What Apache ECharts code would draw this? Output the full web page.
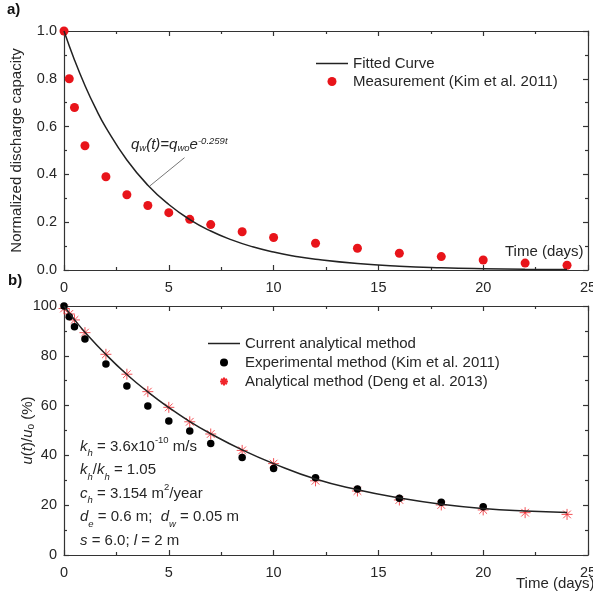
<!DOCTYPE html>
<html><head><meta charset="utf-8">
<script src="https://cdn.jsdelivr.net/npm/echarts@6/dist/echarts.min.js"></script>
<style>html,body{margin:0;padding:0;background:#fff}#c{width:593px;height:593px}</style>
</head><body><div id="c"></div>
<script>
// ---- Panel a) data ----
const measT = [0, 0.25, 0.5, 1, 2, 3, 4, 5, 6, 7, 8.5, 10, 12, 14, 16, 18, 20, 22, 24];
const measQ = [1.0, 0.80, 0.68, 0.52, 0.39, 0.315, 0.27, 0.24, 0.212, 0.19, 0.16, 0.136, 0.112, 0.091, 0.07, 0.056, 0.042, 0.029, 0.02];
const fitT = [0, 0.5, 1, 1.5, 2, 3, 4, 5, 6, 7, 8, 9, 10, 11, 12, 14, 16, 18, 20, 22, 24];
const fitQ = [1.0, 0.879, 0.772, 0.678, 0.596, 0.46, 0.355, 0.274, 0.211, 0.163, 0.126, 0.097, 0.075, 0.058, 0.045, 0.027, 0.016, 0.0095, 0.0056, 0.0034, 0.002];
// ---- Panel b) data ----
const curT = [0, 0.5, 1, 2, 3, 4, 5, 6, 7, 8.5, 10, 12, 14, 16, 18, 20, 22, 24];
const curU = [100, 94.5, 89.5, 80.5, 72.5, 65.5, 59.2, 53.6, 48.7, 42.2, 36.7, 30.5, 26.2, 22.9, 20.4, 18.7, 17.7, 17.1];
const expT = [0, 0.25, 0.5, 1, 2, 3, 4, 5, 6, 7, 8.5, 10, 12, 14, 16, 18, 20];
const expU = [100, 95.7, 91.7, 86.7, 76.7, 67.9, 59.8, 53.8, 49.8, 44.8, 39.2, 34.7, 31.0, 26.5, 22.8, 21.2, 19.4];
const dengT = [0, 0.25, 0.5, 1, 2, 3, 4, 5, 6, 7, 8.5, 10, 12, 14, 16, 18, 20, 22, 24];
const dengU = [99, 96.8, 94.4, 89.3, 80.6, 72.6, 65.6, 59.3, 53.5, 48.6, 42.0, 36.7, 29.8, 25.7, 22.1, 20.1, 18.1, 17.0, 16.3];
// ---- axis ticks ----
const xTicks = [0, 5, 10, 15, 20, 25];
const yTicksA = [0, 0.2, 0.4, 0.6, 0.8, 1.0];
const yTicksB = [0, 20, 40, 60, 80, 100];

const pair = (xs, ys) => xs.map((x, i) => [x, ys[i]]);
const FONT = 'Liberation Sans, Arial, sans-serif';
const TXT = '#262626';
const AX = '#333';
const RED = '#e8141a';
const STAR = 'path://M0,-10L0,10M-10,0L10,0M-7,-7L7,7M-7,7L7,-7';
const LINEICON = 'path://M0,0L32,0L32,1.5L0,1.5Z';

function xAx(grid, ticks, showLabel, pos) {
  return {
    type: 'value', gridIndex: grid, position: pos,
    min: ticks[0], max: ticks[ticks.length - 1], interval: ticks[1] - ticks[0],
    axisLine: { show: true, onZero: false, lineStyle: { color: AX, width: 1.2 } },
    axisTick: { show: true, inside: true, length: 5, lineStyle: { color: AX, width: 1.2 } },
    minorTick: { show: true, splitNumber: 2, length: 3, lineStyle: { color: AX, width: 1.2 } },
    axisLabel: { show: showLabel, margin: 10, color: TXT, fontSize: 14.5, fontFamily: FONT },
    splitLine: { show: false }
  };
}
function yAx(grid, ticks, showLabel, pos, fmt) {
  const a = xAx(grid, ticks, showLabel, pos);
  a.axisLabel.margin = 7;
  if (fmt) a.axisLabel.formatter = fmt;
  return a;
}

const chart = echarts.init(document.getElementById('c'), null, { renderer: 'canvas' });

const xAxes = [xAx(0, xTicks, true, 'bottom'), xAx(0, xTicks, false, 'top'),
               xAx(1, xTicks, true, 'bottom'), xAx(1, xTicks, false, 'top')];
const yA0 = yAx(0, yTicksA, true, 'left', v => v.toFixed(1));
yA0.name = 'Normalized discharge capacity';
yA0.nameLocation = 'middle'; yA0.nameGap = 40; yA0.nameRotate = 90;
yA0.nameTextStyle = { color: TXT, fontSize: 15, fontFamily: FONT };
const yB0 = yAx(1, yTicksB, true, 'left');
yB0.name = '{i|u}({i|t})/{i|u}{sub|o} (%)';
yB0.nameLocation = 'middle'; yB0.nameGap = 28; yB0.nameRotate = 90; yB0.nameMoveOverlap = false;
yB0.nameTextStyle = { color: TXT, fontSize: 15, fontFamily: FONT,
  rich: { i: { fontStyle: 'italic', fontSize: 15, fontFamily: FONT, color: TXT },
          sub: { fontSize: 10, fontFamily: FONT, color: TXT, verticalAlign: 'bottom', padding: [6, 0, 0, 0] } } };
const yAxes = [yA0, yAx(0, yTicksA, false, 'right'), yB0, yAx(1, yTicksB, false, 'right')];

chart.setOption({
  animation: false,
  backgroundColor: '#fff',
  textStyle: { fontFamily: FONT },
  grid: [
    { left: 64, right: 5, top: 31, height: 239, containLabel: false, outerBoundsMode: 'none' },
    { left: 64, right: 5, top: 306, height: 249, containLabel: false, outerBoundsMode: 'none' }
  ],
  xAxis: xAxes,
  yAxis: yAxes,
  legend: [
    { orient: 'vertical', left: 311, top: 51, itemWidth: 32, itemHeight: 9, itemGap: 3,
      textStyle: { color: TXT, fontSize: 15, fontFamily: FONT },
      data: [{ name: 'Fitted Curve', icon: LINEICON }, 'Measurement (Kim et al. 2011)'] },
    { orient: 'vertical', left: 203, top: 331, itemWidth: 32, itemHeight: 8, itemGap: 4,
      textStyle: { color: TXT, fontSize: 15, fontFamily: FONT },
      data: [{ name: 'Current analytical method', icon: LINEICON }, 'Experimental method (Kim et al. 2011)', 'Analytical method (Deng et al. 2013)'] }
  ],
  series: [
    { name: 'Fitted Curve', type: 'line', xAxisIndex: 0, yAxisIndex: 0, data: pair(fitT, fitQ),
      smooth: true, showSymbol: false, symbol: 'none', lineStyle: { color: '#222', width: 1.5 }, itemStyle: { color: '#222' } },
    { name: 'Measurement (Kim et al. 2011)', type: 'scatter', xAxisIndex: 0, yAxisIndex: 0, data: pair(measT, measQ),
      symbol: 'circle', symbolSize: 9, itemStyle: { color: RED, opacity: 1 } },
    { name: 'Current analytical method', type: 'line', xAxisIndex: 2, yAxisIndex: 2, data: pair(curT, curU),
      smooth: true, showSymbol: false, symbol: 'none', lineStyle: { color: '#222', width: 1.5 }, itemStyle: { color: '#222' } },
    { name: 'Analytical method (Deng et al. 2013)', type: 'scatter', xAxisIndex: 2, yAxisIndex: 2, data: pair(dengT, dengU),
      symbol: STAR, symbolSize: 11, itemStyle: { color: 'none', borderColor: '#f0262c', borderWidth: 0.8, opacity: 1 } },
    { name: 'Experimental method (Kim et al. 2011)', type: 'scatter', xAxisIndex: 2, yAxisIndex: 2, data: pair(expT, expU),
      symbol: 'circle', symbolSize: 7.5, itemStyle: { color: '#000', opacity: 1 } }
  ]
});

// annotations
const p1 = chart.convertToPixel({ xAxisIndex: 0, yAxisIndex: 0 }, [4.1, 0.352]);
const p2 = chart.convertToPixel({ xAxisIndex: 0, yAxisIndex: 0 }, [5.75, 0.47]);
const rich = {
  i: { fontStyle: 'italic', fontSize: 15, fontFamily: FONT, color: TXT },
  sub: { fontStyle: 'italic', fontSize: 9.5, fontFamily: FONT, color: TXT, verticalAlign: 'bottom', padding: [7, 0, 0, 0] },
  sup: { fontSize: 9.5, fontFamily: FONT, color: TXT, verticalAlign: 'top', padding: [0, 0, 7, 0] },
  supi: { fontStyle: 'italic', fontSize: 9.5, fontFamily: FONT, color: TXT, verticalAlign: 'top', padding: [0, 0, 7, 0] }
};
chart.setOption({
  graphic: [
    { type: 'text', left: 7, top: 2, style: { text: 'a)', fontSize: 15, fontWeight: 'bold', fontFamily: FONT, fill: '#111' } },
    { type: 'text', left: 8, top: 273, style: { text: 'b)', fontSize: 15, fontWeight: 'bold', fontFamily: FONT, fill: '#111' } },
    { type: 'line', shape: { x1: p1[0], y1: p1[1], x2: p2[0], y2: p2[1] }, style: { stroke: '#777', lineWidth: 1 } },
    { type: 'text', x: 131, y: 145, style: {
        text: '{i|q}{sub|w}{i|(t)=q}{sub|wo}{i|e}{supi|-0.259t}', rich: rich,
        fontSize: 15, fontFamily: FONT, fill: TXT, verticalAlign: 'middle' } },
    { type: 'text', x: 505, y: 252, style: { text: 'Time (days)', fontSize: 15, fontFamily: FONT, fill: TXT, verticalAlign: 'middle' } },
    { type: 'text', x: 516, y: 584, style: { text: 'Time (days)', fontSize: 15, fontFamily: FONT, fill: TXT, verticalAlign: 'middle' } },
    { type: 'text', x: 80, y: 435, style: {
        text: '{i|k}{sub|h} = 3.6x10{sup|-10} m/s\n{i|k}{sub|h}/{i|k}{sub|h} = 1.05\n{i|c}{sub|h} = 3.154 m{sup|2}/year\n{i|d}{sub|e} = 0.6 m;  {i|d}{sub|w} = 0.05 m\n{i|s} = 6.0; {i|l} = 2 m',
        rich: rich, lineHeight: 23.5,
        fontSize: 15, fontFamily: FONT, fill: TXT } }
  ]
});
</script></body></html>
